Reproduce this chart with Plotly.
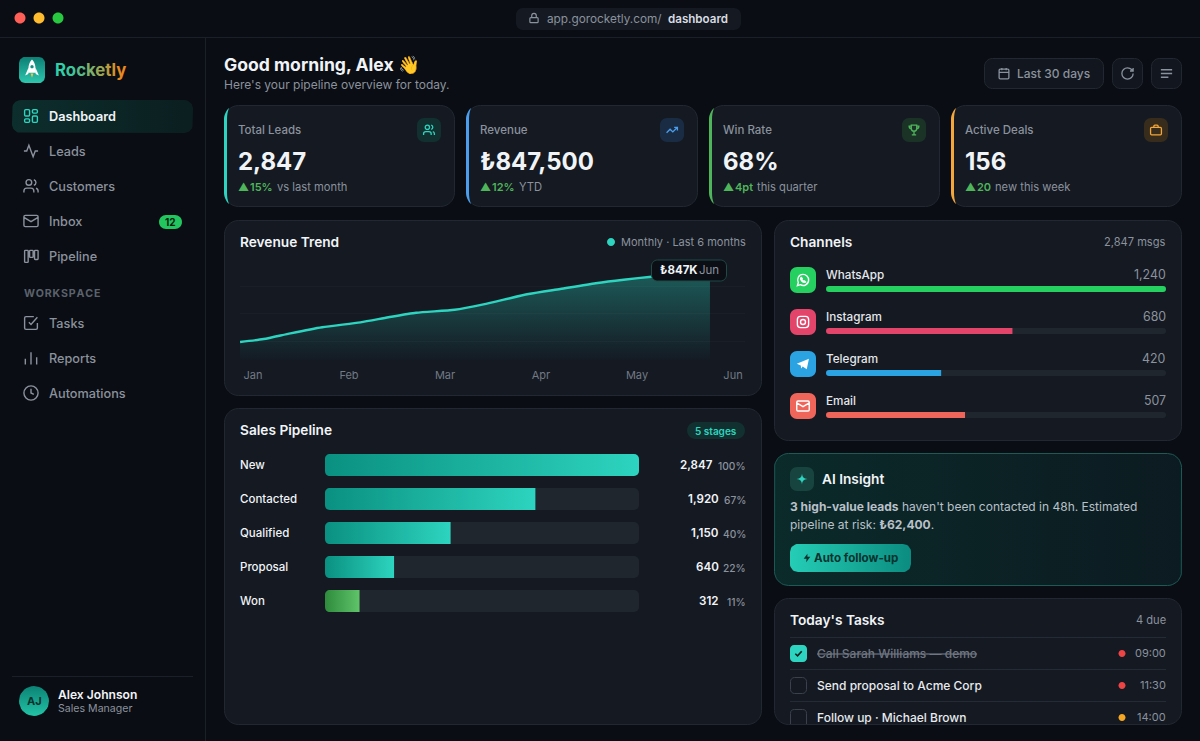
import re
import math
import plotly.graph_objects as go

# chart values
months = ["Jan", "Feb", "Mar", "Apr", "May", "Jun"]
rev_month_pos = [-0.135, 0.11, 0.39, 0.72, 1.12, 1.41, 1.70, 2.10, 2.40, 2.87, 3.20, 3.57, 3.86, 4.15, 4.76]
rev_values = [231, 257, 307, 360, 403, 447, 487, 513, 560, 650, 694, 744, 775, 801, 847]
rev_grid = [240, 480, 720]

stages = ["New", "Contacted", "Qualified", "Proposal", "Won"]
stage_counts = ["2,847", "1,920", "1,150", "640", "312"]
stage_pct = [100, 67, 40, 22, 11]

channels = ["WhatsApp", "Instagram", "Telegram", "Email"]
channel_msgs = [1240, 680, 420, 507]
channel_colors = ["#25cf60", "#e2446a", "#2ba3e2", "#f0655a"]

kpi_labels = ["Total Leads", "Revenue", "Win Rate", "Active Deals"]
kpi_values = ["2,847", "₺847,500", "68%", "156"]
kpi_delta = ["15%", "12%", "4pt", "20"]
kpi_note = ["vs last month", "YTD", "this quarter", "new this week"]

nav_main = ["Dashboard", "Leads", "Customers", "Inbox", "Pipeline"]
nav_work = ["Tasks", "Reports", "Automations"]

tasks = ["Call Sarah Williams — demo", "Send proposal to Acme Corp", "Follow up · Michael Brown"]
task_times = ["09:00", "11:30", "14:00"]

BG = "#0a0d13"
CARD = "#141922"
BORDER = "#222831"
LINE = "#1b2028"
WHITE = "#f1f4f7"
GREY = "#8b929d"
TEAL = "#2dd4bf"
GREEN = "#4fb55a"
FONT = "Inter"

shapes = []
notes = []


def rr(x0, y0, x1, y1, r):
    k = r * 0.45
    return (f"M{x0 + r},{y0} L{x1 - r},{y0} C{x1 - k},{y0} {x1},{y0 + k} {x1},{y0 + r} "
            f"L{x1},{y1 - r} C{x1},{y1 - k} {x1 - k},{y1} {x1 - r},{y1} "
            f"L{x0 + r},{y1} C{x0 + k},{y1} {x0},{y1 - k} {x0},{y1 - r} "
            f"L{x0},{y0 + r} C{x0},{y0 + k} {x0 + k},{y0} {x0 + r},{y0} Z")


def circ(cx, cy, r):
    k = r * 0.552
    return (f"M{cx - r},{cy} C{cx - r},{cy - k} {cx - k},{cy - r} {cx},{cy - r} "
            f"C{cx + k},{cy - r} {cx + r},{cy - k} {cx + r},{cy} "
            f"C{cx + r},{cy + k} {cx + k},{cy + r} {cx},{cy + r} "
            f"C{cx - k},{cy + r} {cx - r},{cy + k} {cx - r},{cy} Z")


def panel(d, fill=CARD, line=None, width=1, layer="below"):
    shapes.append(dict(type="path", path=d, xref="x", yref="y", layer=layer, fillcolor=fill,
                       line=dict(color=line or "rgba(0,0,0,0)", width=width if line else 0)))


def icon(d, cx, cy, size, color, width=1.5, fill=None):
    # icon paths are written in a 24x24 box, this moves them to the page
    s = size / 24
    count = [0]

    def move(m):
        v = float(m.group())
        i = count[0]
        count[0] += 1
        return f"{(cx if i % 2 == 0 else cy) + (v - 12) * s:.2f}"

    path = re.sub(r"-?\d+\.?\d*", move, d)
    shapes.append(dict(type="path", path=path, xref="x", yref="y", layer="above",
                       fillcolor=fill or "rgba(0,0,0,0)",
                       line=dict(color=color, width=width if width else 0)))


def txt(x, y, text, size=12, color=WHITE, weight=400, anchor="left"):
    # annotations sit about a pixel inside their anchor
    nudge = {"left": -1, "right": 1, "center": 0}[anchor]
    notes.append(dict(x=x + nudge, y=y - 0.3, xref="x", yref="y", text=text, showarrow=False, xanchor=anchor,
                      yanchor="middle", borderpad=0, align=anchor,
                      font=dict(family=FONT, size=size, color=color, weight=weight)))


def grad_panel(x0, y0, x1, y1, r, c0, c1, kind="horizontal", line=None):
    # rounded box outline as a filled scatter, so it can carry a gradient
    pts = []
    corners = [(x1 - r, y0 + r, -90), (x1 - r, y1 - r, 0), (x0 + r, y1 - r, 90), (x0 + r, y0 + r, 180)]
    for cx, cy, start in corners:
        for a in range(0, 91, 10):
            t = math.radians(start + a)
            pts.append((cx + r * math.cos(t), cy + r * math.sin(t)))
    pts.append(pts[0])
    return go.Scatter(x=[p[0] for p in pts], y=[p[1] for p in pts], mode="lines", fill="toself",
                      line=dict(color=line or "rgba(0,0,0,0)", width=1 if line else 0),
                      fillgradient=dict(type=kind, colorscale=[[0, c0], [1, c1]]),
                      hoverinfo="skip", showlegend=False, xaxis="x", yaxis="y")


ICONS = {
    "dash": rr(3, 3, 10, 12, 1.5) + " " + rr(14, 3, 21, 8, 1.5) + " " + rr(14, 12, 21, 21, 1.5) + " " + rr(3, 16, 10, 21, 1.5),
    "activity": "M22,12 L18,12 L15,20 L9,4 L6,12 L2,12",
    "users": circ(9, 7, 4) + " M2,21 L2,19 C2,16.8 3.8,15 6,15 L12,15 C14.2,15 16,16.8 16,19 L16,21 M16,3.2 C18,3.7 19,5.3 19,7 C19,8.8 18,10.4 16,11 M22,21 L22,19 C22,17 20.7,15.5 19,15.1",
    "mail": rr(2, 4, 22, 20, 2) + " M22,7 L12,13 L2,7",
    "kanban": rr(3, 4, 8, 21, 1) + " " + rr(10, 4, 15, 14, 1) + " " + rr(17, 4, 22, 17, 1),
    "tasks": "M9,11 L12,14 L21,4 M21,12 L21,19 C21,20 20,21 19,21 L5,21 C4,21 3,20 3,19 L3,5 C3,4 4,3 5,3 L16,3",
    "bars": "M4,21 L4,13 M12,21 L12,4 M20,21 L20,11",
    "clock": circ(12, 12, 10) + " M12,6 L12,12 L16,14",
    "calendar": rr(3, 4, 21, 22, 2) + " M16,2 L16,6 M8,2 L8,6 M3,10 L21,10",
    "refresh": "M21,12 C21,17 17,21 12,21 C7,21 3,17 3,12 C3,7 7,3 12,3 C14.5,3 16.9,4 18.7,5.7 L21,8 M21,3 L21,8 L16,8",
    "menu": "M3,6 L21,6 M3,12 L21,12 M3,18 L15,18",
    "lock": rr(3, 11, 21, 22, 2) + " M7,11 L7,7 C7,4.2 9.2,2 12,2 C14.8,2 17,4.2 17,7 L17,11",
    "trend": "M22,7 L13.5,15.5 L8.5,10.5 L2,17 M16,7 L22,7 L22,13",
    "trophy": "M7,3 L17,3 L17,9 C17,12 15,14 12,14 C9,14 7,12 7,9 Z M7,5 L3,5 C3,8 4.5,9.5 7,9.5 M17,5 L21,5 C21,8 19.5,9.5 17,9.5 M12,14 L12,21 M8,21 L16,21",
    "case": rr(2, 7, 22, 21, 2) + " M16,7 L16,5 C16,4 15,3 14,3 L10,3 C9,3 8,4 8,5 L8,7",
    "whatsapp": "M3,21 L4.5,16 C2,11 4.5,3 12,3 C17,3 21,7 21,12 C21,19 13,23 8,19.5 Z M9,8 C8,9 8,11 10,13.5 C12,15.5 14,16.5 16,15 L14.5,13.5 L13,14 C12,13.5 10.5,12 10,11 L10.8,9.5 Z",
    "insta": rr(3, 3, 21, 21, 5) + " " + circ(12, 12, 4) + " " + "M17.5,6.5 L17.6,6.5",
    "plane": "M2,11.5 L21.5,3.5 L18,20.5 L11.5,15.8 L9,19 L8.5,14.2 Z",
    "spark": "M12,2 C12.8,9 15,11.2 22,12 C15,12.8 12.8,15 12,22 C11.2,15 9,12.8 2,12 C9,11.2 11.2,9 12,2 Z",
    "check": "M5,12.5 L10,17 L19,7",
    "bolt": "M13,2 L4,14 L11,14 L10,22 L20,9 L13,9 Z",
    "rocket": "M12,1.5 C15.5,5 16,9 16,16 L8,16 C8,9 8.5,5 12,1.5 Z M8,11 L4.5,19 L8,17.5 Z M16,11 L19.5,19 L16,17.5 Z",
}

# window frame
shapes.append(dict(type="line", x0=0, x1=1200, y0=37.5, y1=37.5, xref="x", yref="y", layer="below", line=dict(color=LINE, width=1)))
shapes.append(dict(type="line", x0=205.5, x1=205.5, y0=38, y1=741, xref="x", yref="y", layer="below", line=dict(color=LINE, width=1)))
for cx, col in zip([20, 39, 58], ["#ff5f57", "#febc2e", "#28c840"]):
    panel(circ(cx, 18, 5.5), fill=col)
panel(rr(516, 8, 741, 30, 7), fill="#151a22")
icon(ICONS["lock"], 534, 18, 11, GREY, 1.2)
txt(547, 19, "app.gorocketly.com/", 11.8, GREY)
txt(668, 19, "dashboard", 11.6, "#d9dde2", 600)

# sidebar
gradient_boxes = [
    grad_panel(12, 100, 193, 133, 9, "#0c2e2c", "#0b1e20"),
    grad_panel(19, 57, 45, 83, 6, "#2dc7ae", "#0d7f74", "vertical"),
]
icon(ICONS["rocket"], 32, 69, 22, "rgba(0,0,0,0)", 0, fill="#ffffff")
icon(circ(12, 9.5, 1.8), 32, 69, 22, "rgba(0,0,0,0)", 0, fill="#138f82")
icon("M10.5,17 L12,21.5 L13.5,17 Z", 32, 69, 22, "rgba(0,0,0,0)", 0, fill="#f6c445")
brand = ["#2fcfa9", "#3fc59b", "#58ba88", "#7cb06c", "#9aa856", "#b99c3f", "#d5902c", "#e8881f"]
txt(55, 70, "".join(f'<span style="color:{c}">{ch}</span>' for ch, c in zip("Rocketly", brand)), 16.8, TEAL, 700)

nav_icons = ["dash", "activity", "users", "mail", "kanban"]
for i, name in enumerate(nav_main):
    y = 116 + 35 * i
    active = i == 0
    icon(ICONS[nav_icons[i]], 31, y, 17, TEAL if active else GREY, 1.4)
    txt(49, y + 0.5, name, 12.7, WHITE if active else GREY, 600 if active else 500)
panel(rr(159, 215, 182, 229, 7), fill="#22c55e")
txt(170.5, 222.5, "12", 10, "#07230f", 700, "center")
txt(24, 294, "\u200a".join("WORKSPACE"), 10.6, "#5b626d", 700)
for i, (name, ic) in enumerate(zip(nav_work, ["tasks", "bars", "clock"])):
    y = 323 + 35 * i
    icon(ICONS[ic], 31, y, 17, GREY, 1.4)
    txt(49, y + 0.5, name, 12.7, GREY, 500)
shapes.append(dict(type="line", x0=12, x1=193, y0=676.5, y1=676.5, xref="x", yref="y", layer="below", line=dict(color=LINE, width=1)))
gradient_boxes.append(grad_panel(19, 686, 49, 716, 15, "#22c3a6", "#0c8275", "vertical"))
txt(34, 701.5, "AJ", 11, "#07312c", 700, "center")
txt(58, 695, "Alex Johnson", 12.1, WHITE, 600)
txt(58, 708.5, "Sales Manager", 10.6, GREY)

# page header
txt(224, 65, "Good morning, Alex 👋", 17.6, WHITE, 700)
txt(224, 85, "Here's your pipeline overview for today.", 12, GREY)
panel(rr(984.5, 58.5, 1103.5, 88.5, 8), line=BORDER, fill="#12171f")
icon(ICONS["calendar"], 1004, 73.5, 13, GREY, 1.3)
txt(1017, 74, "Last 30 days", 12, GREY, 500)
for x0, ic in [(1112.5, "refresh"), (1151.5, "menu")]:
    panel(rr(x0, 58.5, x0 + 30, 88.5, 8), line=BORDER, fill="#12171f")
    icon(ICONS[ic], x0 + 15, 73.5, 15, GREY, 1.3)

# kpi cards
kpi_x = [(224.5, 454.5), (466.5, 697.5), (709.5, 939.5), (951.5, 1181.5)]
kpi_colors = [TEAL, "#4a9eed", "#4fb55a", "#f2a63b"]
kpi_chip = ["#12302f", "#1a2c44", "#1b3326", "#382c1c"]
kpi_icons = ["users", "trend", "trophy", "case"]
kpi_note_x = [277, 519, 757, 995]
y0, y1 = 105.5, 206.5
for i, (x0, x1) in enumerate(kpi_x):
    panel(rr(x0, y0, x1, y1, 14), line=BORDER)
    # left accent tapers off into the corner arcs
    a = x0 - 0.5
    panel(f"M{a + 5},{y0 + 2.5} C{a + 2},{y0 + 5} {a},{y0 + 10} {a},{y0 + 14} L{a},{y1 - 14} "
          f"C{a},{y1 - 10} {a + 2},{y1 - 5} {a + 5},{y1 - 2.5} C{a + 3.6},{y1 - 6} {a + 3},{y1 - 10} {a + 3},{y1 - 14} "
          f"L{a + 3},{y0 + 14} C{a + 3},{y0 + 10} {a + 3.6},{y0 + 6} {a + 5},{y0 + 2.5} Z", fill=kpi_colors[i])
    panel(rr(x1 - 37.5, 118, x1 - 13.5, 142, 7), fill=kpi_chip[i])
    icon(ICONS[kpi_icons[i]], x1 - 25.5, 130, 13, kpi_colors[i], 1.3)
    txt(x0 + 13.5, 130, kpi_labels[i], 11.5, GREY, 500)
    txt(x0 + 13.5, 161.5, kpi_values[i], 24, WHITE, 700)
    txt(x0 + 13.5, 187.5, "▲", 11, GREEN)
    txt(x0 + 25.5, 187.5, kpi_delta[i], 11, GREEN, 600)
    txt(kpi_note_x[i], 187.5, kpi_note[i], 11.2, GREY)

# revenue card
panel(rr(224.5, 220.5, 761.5, 395.5, 14), line=BORDER)
txt(240, 242, "Revenue Trend", 13.7, WHITE, 600)
panel(circ(611, 242, 4), fill=TEAL)
txt(746, 242.5, "Monthly · Last 6 months", 11, GREY, 400, "right")
panel(rr(651.5, 260, 726.5, 281, 6), fill="#0b0f15", line="#1f4a46", layer="above")
txt(660, 270.5, "<b>₺847K</b>", 11.5, WHITE)
txt(699, 270.5, "Jun", 11.5, GREY)

# pipeline card
panel(rr(224.5, 408.5, 761.5, 724.5, 14), line=BORDER)
txt(240, 430, "Sales Pipeline", 13.7, WHITE, 600)
panel(rr(687, 422, 745, 439, 8.5), fill="#11302f")
txt(716, 431, "5 stages", 10, TEAL, 600, "center")
val_right = [713, 719, 719, 719, 719]
for i, stage in enumerate(stages):
    y = 465 + 34 * i
    txt(240, y, stage, 11.5, WHITE, 500)
    txt(val_right[i], y, stage_counts[i], 11.6, WHITE, 600, "right")
    txt(746, y + 1, f"{stage_pct[i]}%", 10.2, GREY, 500, "right")
    # the bar only rounds its far end, the base end gets masked here
    panel(f"M325,{y - 11} L330,{y - 11} C327,{y - 11} 325,{y - 9} 325,{y - 6} Z", layer="above")
    panel(f"M325,{y + 11} L330,{y + 11} C327,{y + 11} 325,{y + 9} 325,{y + 6} Z", layer="above")

# channels card
panel(rr(774.5, 220.5, 1181.5, 440.5, 14), line=BORDER)
txt(790, 242, "Channels", 13.7, WHITE, 600)
txt(1166, 242.5, "2,847 msgs", 11.1, GREY, 400, "right")
channel_icons = ["whatsapp", "insta", "plane", "mail"]
for i, name in enumerate(channels):
    y = 280 + 42 * i
    panel(rr(790, y - 13, 816, y + 13, 7), fill=channel_colors[i])
    solid = "#ffffff" if channel_icons[i] == "plane" else None
    icon(ICONS[channel_icons[i]], 803, y, 15, "#ffffff" if not solid else "rgba(0,0,0,0)", 1.4, fill=solid)
    txt(826, y - 5, name, 11.7, "#e4e7eb", 500)
    txt(1166, y - 5, f"{channel_msgs[i]:,}", 12.4, GREY, 400, "right")
    b = y + 9
    panel(f"M826,{b - 3} L829,{b - 3} C827,{b - 3} 826,{b - 2} 826,{b} Z", layer="above")
    panel(f"M826,{b + 3} L829,{b + 3} C827,{b + 3} 826,{b + 2} 826,{b} Z", layer="above")

# ai insight card
gradient_boxes.append(grad_panel(774.5, 453.5, 1181.5, 585.5, 14, "#0b2a2a", "#0c1b21", "horizontal", "#1c5a53"))
panel(rr(790, 467, 814, 491, 7), fill="#17443f", layer="above")
icon(ICONS["spark"], 802, 479, 13, "rgba(0,0,0,0)", 0, fill=TEAL)
txt(822, 479.5, "AI Insight", 13.7, WHITE, 600)
txt(790, 507, "<b>3 high-value leads</b> haven't been contacted in 48h. Estimated", 12, "#b9c0c8")
txt(790, 525, "pipeline at risk: <b>₺62,400</b>.", 12, "#b9c0c8")
gradient_boxes.append(grad_panel(790, 544, 911, 572, 8, "#25cdb6", "#0b8c80"))
icon(ICONS["bolt"], 807, 558, 10, "rgba(0,0,0,0)", 0, fill="#07322d")
txt(814, 558.5, "Auto follow-up", 11.6, "#07322d", 700)

# tasks card
panel(rr(774.5, 598.5, 1181.5, 724.5, 14), line=BORDER)
txt(790, 620, "Today's Tasks", 13.7, WHITE, 600)
txt(1166, 620.5, "4 due", 11.1, GREY, 400, "right")
for y in [637.5, 669.5, 701.5]:
    shapes.append(dict(type="line", x0=790, x1=1166, y0=y, y1=y, xref="x", yref="y", layer="below", line=dict(color="#252b34", width=1)))
dot_colors = ["#ef4444", "#ef4444", "#f5a623"]
for i, name in enumerate(tasks):
    y = 653.5 + 32 * i
    if i == 0:
        panel(rr(790, y - 8.5, 807, y + 8.5, 4), fill=TEAL)
        icon(ICONS["check"], 798.5, y, 11, "#08201d", 1.6)
        txt(817, y + 0.5, f"<s>{name}</s>", 12, "#6f7681", 500)
    elif i == 1:
        panel(rr(790.5, y - 8, 806.5, y + 8, 4), fill=CARD, line="#3a414b")
        txt(817, y + 0.5, name, 12, "#e8ebee", 500)
    else:
        panel(f"M790.5,724 L790.5,{y - 4} C790.5,{y - 7} 792,{y - 8} 794.5,{y - 8} L802.5,{y - 8} C805,{y - 8} 806.5,{y - 7} 806.5,{y - 4} L806.5,724", fill="rgba(0,0,0,0)", line="#3a414b")
        txt(817, y + 0.5, name, 12, "#e8ebee", 500)
    panel(circ(1122, y, 3.5), fill=dot_colors[i])
    txt(1166, y, task_times[i], 11, GREY, 400, "right")

fig = go.Figure()
for box in gradient_boxes:
    fig.add_trace(box)

# revenue line, x2/y2
fig.add_trace(go.Scatter(
    x=rev_month_pos, y=rev_values, xaxis="x2", yaxis="y2", mode="lines",
    line=dict(color=TEAL, width=2.4, shape="spline", smoothing=0.6),
    fill="tozeroy",
    fillgradient=dict(type="vertical", colorscale=[[0, "rgba(45,212,191,0)"], [0.07, "rgba(45,212,191,0)"], [1, "rgba(45,212,191,0.36)"]]),
    hoverinfo="skip", showlegend=False,
))

# pipeline bars, x3/y3, colours get swapped for gradients in the page script
fig.add_trace(go.Bar(x=[100] * len(stages), y=stages, orientation="h", xaxis="x3", yaxis="y3",
                     marker=dict(color="#20262e", line=dict(width=0)), hoverinfo="skip", showlegend=False))
fig.add_trace(go.Bar(x=stage_pct, y=stages, orientation="h", xaxis="x3", yaxis="y3",
                     marker=dict(color=[TEAL] * 4 + ["#5fc46a"], line=dict(width=0)), hoverinfo="skip", showlegend=False))

# channel bars, x4/y4
fig.add_trace(go.Bar(x=[max(channel_msgs)] * len(channels), y=channels, orientation="h", xaxis="x4", yaxis="y4",
                     marker=dict(color="#20262e", line=dict(width=0)), hoverinfo="skip", showlegend=False))
fig.add_trace(go.Bar(x=channel_msgs, y=channels, orientation="h", xaxis="x4", yaxis="y4",
                     marker=dict(color=channel_colors, line=dict(width=0)), hoverinfo="skip", showlegend=False))


def dx(a, b):
    return [a / 1200, b / 1200]


def dy(top, bottom):
    return [1 - bottom / 741, 1 - top / 741]


hidden = dict(visible=False, fixedrange=True)
fig.update_layout(
    width=1200, height=741, margin=dict(l=0, r=0, t=0, b=0), autosize=False,
    paper_bgcolor=BG, plot_bgcolor="rgba(0,0,0,0)", hovermode=False, showlegend=False,
    barmode="overlay", barcornerradius=5,
    font=dict(family=FONT, color=GREY),
    xaxis=dict(hidden, range=[0, 1200], domain=[0, 1]),
    yaxis=dict(hidden, range=[741, 0], domain=[0, 1]),
    xaxis2=dict(domain=dx(240, 745), anchor="y2", range=[-0.1354, 5.125], tickvals=list(range(6)), ticktext=months,
                showgrid=False, zeroline=False, showline=False, ticks="", ticklabelstandoff=-2, fixedrange=True,
                tickfont=dict(family=FONT, size=11, color="#727984")),
    yaxis2=dict(domain=dy(258.5, 368.5), anchor="x2", range=[0, 960], tickvals=rev_grid, showticklabels=False,
                gridcolor="#1a1f27", gridwidth=1, zeroline=False, showline=False, ticks="", fixedrange=True),
    xaxis3=dict(hidden, domain=dx(325, 639), anchor="y3", range=[0, 100]),
    yaxis3=dict(hidden, domain=dy(448, 618), anchor="x3", autorange="reversed", type="category"),
    xaxis4=dict(hidden, domain=dx(826, 1166), anchor="y4", range=[0, max(channel_msgs)]),
    yaxis4=dict(hidden, domain=dy(268, 436), anchor="x4", autorange="reversed", type="category"),
    bargap=0.353,
    shapes=shapes, annotations=notes,
)
# thin channel bars against fat pipeline bars
fig.update_traces(width=0.647, selector=dict(xaxis="x3"))
fig.update_traces(width=0.143, selector=dict(xaxis="x4"))

page_js = """
document.body.style.margin = '0';
document.documentElement.style.overflow = 'hidden';
var gd = document.getElementById('{plot_id}');
var svg = gd.querySelector('svg.main-svg');
var defs = svg.querySelector('defs');
function addGrad(id, a, b) {
  var ns = 'http://www.w3.org/2000/svg';
  var g = document.createElementNS(ns, 'linearGradient');
  g.setAttribute('id', id);
  [[0, a], [1, b]].forEach(function (s) {
    var st = document.createElementNS(ns, 'stop');
    st.setAttribute('offset', s[0]);
    st.setAttribute('stop-color', s[1]);
    g.appendChild(st);
  });
  defs.appendChild(g);
}
addGrad('barTeal', '#0a9080', '#2dd4bf');
addGrad('barGreen', '#2e8b3c', '#5fc46a');
gd.querySelectorAll('.barlayer .point path').forEach(function (p) {
  if (p.style.fill === 'rgb(45, 212, 191)') p.style.fill = 'url(#barTeal)';
  if (p.style.fill === 'rgb(95, 196, 106)') p.style.fill = 'url(#barGreen)';
});
"""

fig.write_html("out.html", config=dict(displayModeBar=False), post_script=page_js)
